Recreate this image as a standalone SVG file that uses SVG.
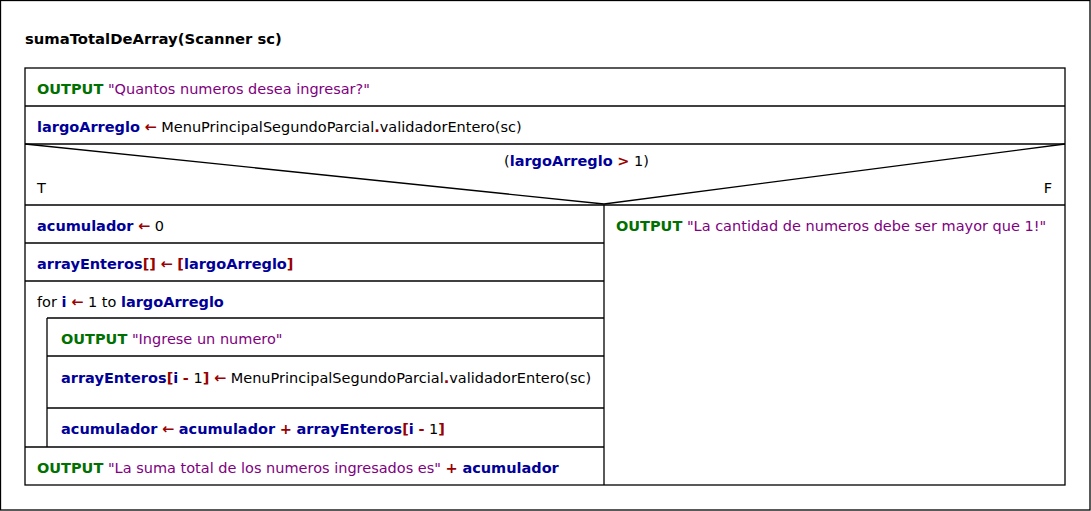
<svg xmlns="http://www.w3.org/2000/svg" width="1091" height="511" viewBox="0 0 1091 511">
<style>
.ln{fill:none;stroke:#000;stroke-width:1.3}
text{font-family:"DejaVu Sans",sans-serif;font-size:14.5px;fill:#000}
.b{font-weight:bold;font-size:14.8px}
.k{fill:#007000;font-weight:bold}
.s{fill:#800080}
.v{fill:#000099;font-weight:bold}
.o{fill:#990000;font-weight:bold}
</style>
<rect x="0.5" y="0.5" width="1089.5" height="509.5" fill="#fff" class="ln"/>
<text id="title" class="b" x="25" y="44">sumaTotalDeArray(Scanner sc)</text>
<g id="connectors">
<rect class="ln" x="25" y="68" width="1040" height="417"/>
<line class="ln" x1="25" y1="106" x2="1065" y2="106"/>
<line class="ln" x1="25" y1="144" x2="1065" y2="144"/>
<polyline class="ln" points="25,144 604,204 1065,144"/>
<line class="ln" x1="25" y1="205" x2="1065" y2="205"/>
<line class="ln" x1="604" y1="205" x2="604" y2="485"/>
<line class="ln" x1="25" y1="243" x2="604" y2="243"/>
<line class="ln" x1="25" y1="281" x2="604" y2="281"/>
<line class="ln" x1="47" y1="318" x2="604" y2="318"/>
<line class="ln" x1="47" y1="318" x2="47" y2="447"/>
<line class="ln" x1="47" y1="356" x2="604" y2="356"/>
<line class="ln" x1="47" y1="408" x2="604" y2="408"/>
<line class="ln" x1="25" y1="447" x2="604" y2="447"/>
</g>
<g id="n1"><text x="37" y="94"><tspan class="k">OUTPUT</tspan> <tspan class="s">"Quantos numeros desea ingresar?"</tspan></text></g>
<g id="n2"><text x="37" y="132"><tspan class="v">largoArreglo</tspan> <tspan class="o">←</tspan> MenuPrincipalSegundoParcial<tspan class="o">.</tspan>validadorEntero(sc)</text></g>
<g id="n3"><text x="504" y="166">(<tspan class="v">largoArreglo</tspan> <tspan class="o">&gt;</tspan> 1)</text>
<text x="37" y="193">T</text><text x="1052" y="193" text-anchor="end">F</text></g>
<g id="n4"><text x="37" y="231"><tspan class="v">acumulador</tspan> <tspan class="o">←</tspan> 0</text></g>
<g id="n5"><text x="37" y="269"><tspan class="v">arrayEnteros</tspan><tspan class="o">[]</tspan> <tspan class="o">←</tspan> <tspan class="o">[</tspan><tspan class="v">largoArreglo</tspan><tspan class="o">]</tspan></text></g>
<g id="n6"><text x="37" y="307">for <tspan class="v">i</tspan> <tspan class="o">←</tspan> 1 to <tspan class="v">largoArreglo</tspan></text></g>
<g id="n7"><text x="61" y="344"><tspan class="k">OUTPUT</tspan> <tspan class="s">"Ingrese un numero"</tspan></text></g>
<g id="n8"><text x="61" y="383"><tspan class="v">arrayEnteros</tspan><tspan class="o">[</tspan><tspan class="v">i</tspan> <tspan class="o">-</tspan> 1<tspan class="o">]</tspan> <tspan class="o">←</tspan> MenuPrincipalSegundoParcial<tspan class="o">.</tspan>validadorEntero(sc)</text></g>
<g id="n9"><text x="61" y="434"><tspan class="v">acumulador</tspan> <tspan class="o">←</tspan> <tspan class="v">acumulador</tspan> <tspan class="o">+</tspan> <tspan class="v">arrayEnteros</tspan><tspan class="o">[</tspan><tspan class="v">i</tspan> <tspan class="o">-</tspan> 1<tspan class="o">]</tspan></text></g>
<g id="n10"><text x="37" y="473"><tspan class="k">OUTPUT</tspan> <tspan class="s">"La suma total de los numeros ingresados es"</tspan> <tspan class="o">+</tspan> <tspan class="v">acumulador</tspan></text></g>
<g id="n11"><text x="616" y="231"><tspan class="k">OUTPUT</tspan> <tspan class="s">"La cantidad de numeros debe ser mayor que 1!"</tspan></text></g>
</svg>
